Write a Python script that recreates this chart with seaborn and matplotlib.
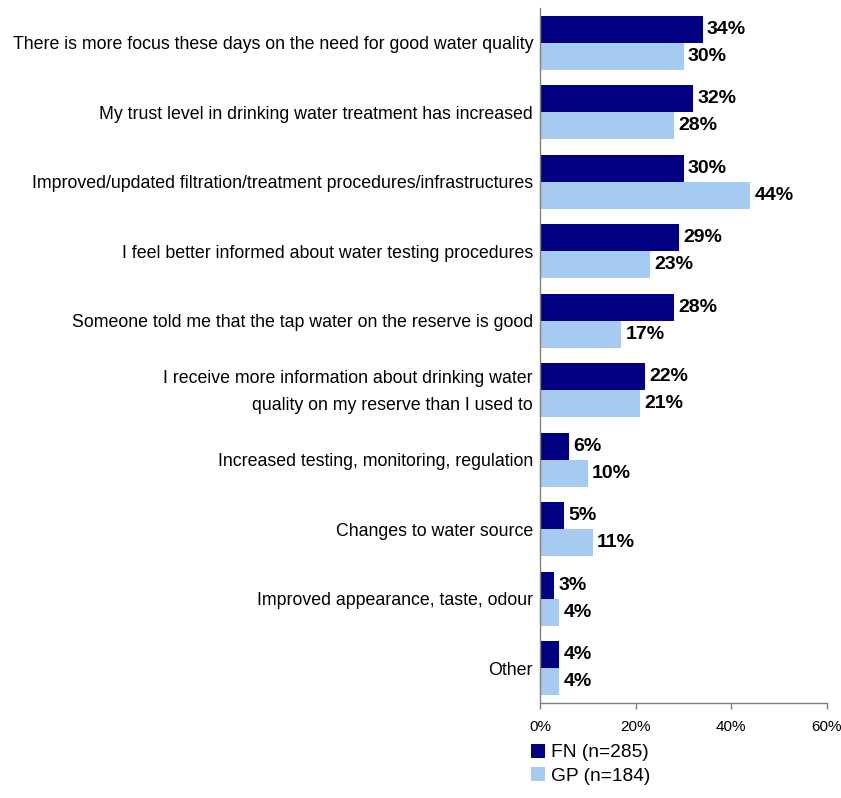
import matplotlib
matplotlib.use("Agg")
import matplotlib.pyplot as plt
import matplotlib.transforms as mtransforms
import seaborn as sns
import pandas as pd
from matplotlib.patches import Patch

categories = [
    "There is more focus these days on the need for good water quality",
    "My trust level in drinking water treatment has increased",
    "Improved/updated filtration/treatment procedures/infrastructures",
    "I feel better informed about water testing procedures",
    "Someone told me that the tap water on the reserve is good",
    "I receive more information about drinking water\nquality on my reserve than I used to",
    "Increased testing, monitoring, regulation",
    "Changes to water source",
    "Improved appearance, taste, odour",
    "Other",
]
fn_values = [34, 32, 30, 29, 28, 22, 6, 5, 3, 4]
gp_values = [30, 28, 44, 23, 17, 21, 10, 11, 4, 4]
series = ["FN (n=285)", "GP (n=184)"]
colors = ["#000080", "#A6CAF0"]
x_ticks = [0, 20, 40, 60]

df = pd.DataFrame({
    "category": categories * 2,
    "value": fn_values + gp_values,
    "group": [series[0]] * len(categories) + [series[1]] * len(categories),
})

sns.set_style("white")
plt.rcParams["font.family"] = ["Liberation Sans", "DejaVu Sans"]
plt.rcParams["text.color"] = "black"
plt.rcParams["xtick.color"] = "black"
plt.rcParams["ytick.color"] = "black"

fig = plt.figure(figsize=(8.41, 7.98), dpi=100)
ax = fig.add_axes([540 / 841, 1 - 703 / 798, 287 / 841, 695 / 798])

sns.barplot(data=df, x="value", y="category", hue="group", order=categories,
            hue_order=series, palette=colors, orient="h", width=0.78,
            saturation=1, legend=False, linewidth=0, ax=ax)

for cont in ax.containers:
    ax.bar_label(cont, fmt="%d%%", padding=3, fontsize=14, fontweight="bold",
                 color="black")

ax.set_xlim(0, 60)
ax.set_ylim(len(categories) - 0.5, -0.5)
ax.set_xticks(x_ticks)
ax.set_xticklabels([f"{t}%" for t in x_ticks], fontsize=11)
ax.set_xlabel("")
ax.set_ylabel("")
ax.tick_params(axis="y", length=0, pad=5)
ax.tick_params(axis="x", length=4, width=1, color="#808080", direction="out",
               pad=8, bottom=True, labelcolor="black")
for lab in ax.get_yticklabels():
    lab.set_fontsize(12.8)
    lab.set_color("black")
    lab.set_horizontalalignment("right")
    lab.set_multialignment("right")
    if "\n" in lab.get_text():
        lab.set_linespacing(1.75)
        # nudge the two-line label up so it sits centred on its bar pair
        lab.set_transform(lab.get_transform() +
                          mtransforms.ScaledTranslation(0, 5 / 100, fig.dpi_scale_trans))

for side in ["top", "right"]:
    ax.spines[side].set_visible(False)
for side in ["left", "bottom"]:
    ax.spines[side].set_visible(True)
    ax.spines[side].set_color("#808080")
    ax.spines[side].set_linewidth(1)

handles = [Patch(facecolor=c, edgecolor="none") for c in colors]
fig.legend(handles, series, loc="upper left", bbox_to_anchor=(523 / 841, 1 - 736 / 798),
           frameon=False, fontsize=13.8,
           handlelength=0.75, handleheight=0.75,
           handletextpad=0.3, labelspacing=0.3, borderaxespad=0)

fig.savefig("out.png", dpi=100)
